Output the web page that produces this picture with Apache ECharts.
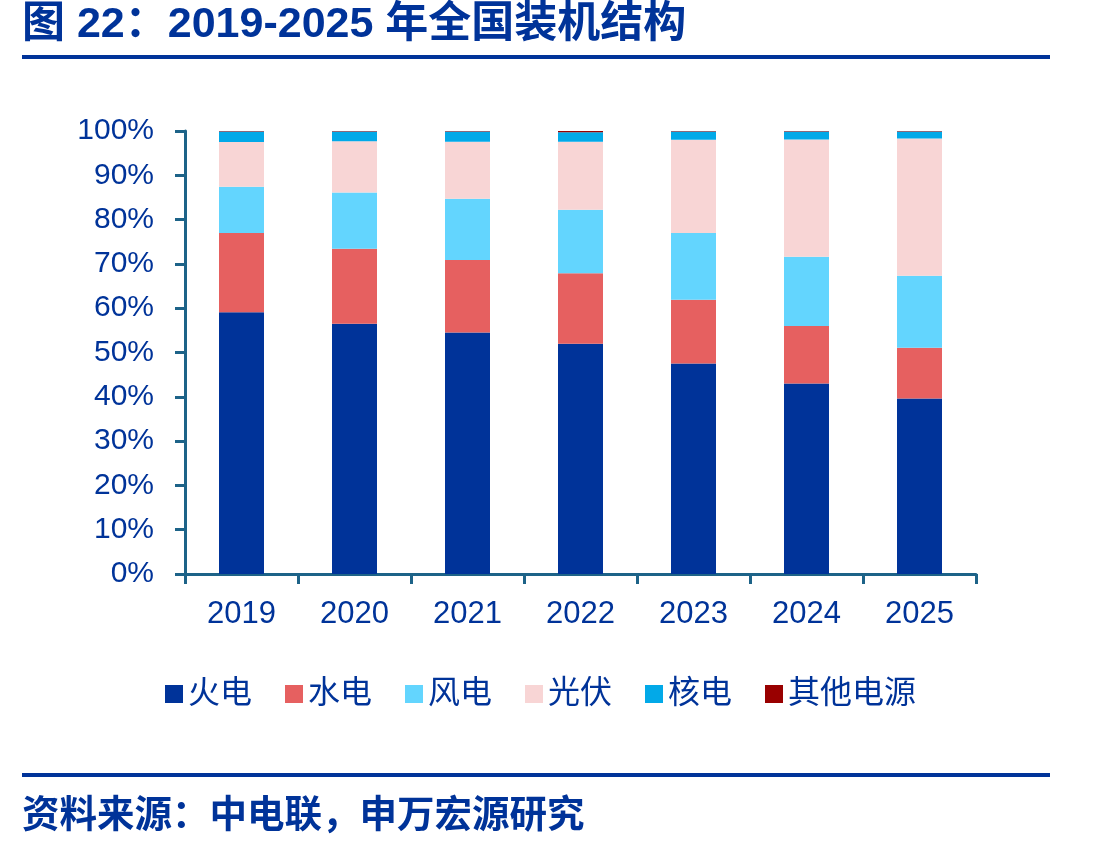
<!DOCTYPE html>
<html>
<head>
<meta charset="utf-8">
<script src="https://cdn.jsdelivr.net/npm/echarts@6/dist/echarts.min.js"></script>
<style>
html,body{margin:0;padding:0;background:#fff;}
#chart{width:1095px;height:852px;}
</style>
</head>
<body>
<div id="chart"></div>
<script>
const categories = ['2019','2020','2021','2022','2023','2024','2025'];
const seriesNames = ['火电','水电','风电','光伏','核电','其他电源'];
const thermal = [59.1, 56.5, 54.5, 52.0, 47.5, 43.0, 39.6];
const hydro   = [17.9, 16.9, 16.4, 15.9, 14.4, 13.0, 11.5];
const wind    = [10.4, 12.7, 13.8, 14.3, 15.1, 15.6, 16.2];
const solar   = [10.1, 11.6, 12.9, 15.4, 21.0, 26.5, 31.0];
const nuclear = [2.4, 2.2, 2.3, 2.1, 1.9, 1.8, 1.6];
const other   = [0.1, 0.1, 0.1, 0.3, 0.1, 0.1, 0.1];
const yTicks = [0,10,20,30,40,50,60,70,80,90,100];

const colors = ['#003399','#E66060','#63D5FE','#F8D5D5','#02A9E8','#990000'];
const values = [thermal, hydro, wind, solar, nuclear, other];
const BLUE = '#003399';
const AXIS = '#1D6388';
const FONT = '"Liberation Sans", Arial, "Noto Sans CJK SC", sans-serif';

const chart = echarts.init(document.getElementById('chart'));
chart.setOption({
  backgroundColor: '#fff',
  animation: false,
  color: colors,
  textStyle: { fontFamily: FONT },
  graphic: [
    { type: 'text', left: 22, top: 4, style: { text: '图 22：2019-2025 年全国装机结构', font: 'bold 43px ' + FONT, fill: BLUE } },
    { type: 'rect', shape: { x: 22, y: 55, width: 1028, height: 4 }, style: { fill: BLUE } },
    { type: 'rect', shape: { x: 22, y: 773, width: 1028, height: 4 }, style: { fill: BLUE } },
    { type: 'text', left: 22, top: 798, style: { text: '资料来源：中电联，申万宏源研究', font: 'bold 37.5px ' + FONT, fill: BLUE } }
  ],
  legend: {
    left: 160, top: 673,
    itemWidth: 18, itemHeight: 18, itemGap: 33,
    icon: 'rect',
    data: seriesNames,
    textStyle: { fontSize: 32, color: BLUE, fontFamily: FONT }
  },
  grid: { left: 185, right: 119, top: 131, bottom: 278, containLabel: false },
  xAxis: {
    type: 'category',
    data: categories,
    axisLine: { lineStyle: { color: AXIS, width: 3 } },
    axisTick: { show: true, length: 10, lineStyle: { color: AXIS, width: 3 } },
    axisLabel: { fontSize: 31, color: BLUE, margin: 25, fontFamily: FONT }
  },
  yAxis: {
    type: 'value', min: 0, max: 100, interval: 10,
    axisLine: { show: true, lineStyle: { color: AXIS, width: 3 } },
    axisTick: { show: true, length: 10, lineStyle: { color: AXIS, width: 3 } },
    splitLine: { show: false },
    axisLabel: { fontSize: 30, color: BLUE, margin: 31, fontFamily: FONT,
      formatter: v => yTicks.includes(v) ? v + '%' : '' }
  },
  series: seriesNames.map((name, i) => ({
    name, type: 'bar', stack: 'total', barWidth: 45,
    data: values[i],
    itemStyle: { color: colors[i] }
  }))
});
</script>
</body>
</html>
